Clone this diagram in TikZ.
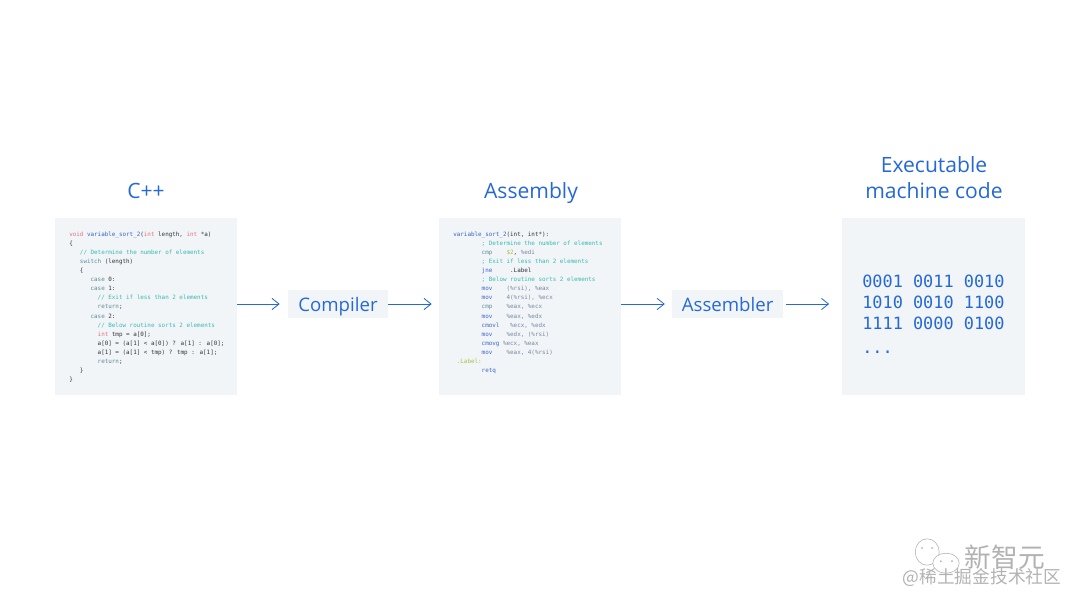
\documentclass[tikz,border=0pt]{standalone}
\usepackage{fontspec}
\setmainfont{Open Sans}
\newfontfamily\codefont{DejaVu Sans Mono}
\newfontfamily\cjkfont{Noto Sans CJK SC}
\definecolor{labelblue}{RGB}{38, 105, 214}
\definecolor{panelgrey}{RGB}{241, 245, 248}
\definecolor{codedark}{RGB}{50, 54, 60}
\definecolor{codeblue}{RGB}{60, 100, 200}
\definecolor{codered}{RGB}{236, 110, 125}
\definecolor{codeteal}{RGB}{60, 185, 175}
\definecolor{codeslate}{RGB}{95, 140, 150}
\definecolor{codereg}{RGB}{120, 135, 160}
\definecolor{codelime}{RGB}{175, 190, 70}
\definecolor{markgrey}{RGB}{178, 178, 178}
\newcommand{\kwred}[1]{\textcolor{codered}{#1}}
\newcommand{\kwblue}[1]{\textcolor{codeblue}{#1}}
\newcommand{\kwslate}[1]{\textcolor{codeslate}{#1}}
\newcommand{\cmt}[1]{\textcolor{codeteal}{#1}}
\newcommand{\reg}[1]{\textcolor{codereg}{#1}}
\usetikzlibrary{positioning, arrows.meta}

\begin{document}
\begin{tikzpicture}[
        panel/.style={fill=panelgrey, minimum width=4.55cm, minimum height=4.425cm, inner sep=0pt},
        toolbox/.style={fill=panelgrey, minimum height=0.7cm, inner sep=0pt, text height=11pt, text depth=1pt, text=labelblue, font=\fontsize{13.25}{17}\selectfont},
        title/.style={text=labelblue, align=center, font=\fontsize{15}{18.5}\selectfont},
        code/.style={anchor=north west, inner sep=0pt, align=left, text=codedark, font=\codefont\fontsize{4.2}{6.45}\selectfont},
        bincode/.style={anchor=north west, inner sep=0pt, align=left, text=labelblue, font=\codefont\fontsize{12}{15.15}\selectfont},
        arrow/.style={-{Straight Barb[length=5pt, width=8pt]}, semithick, color=labelblue},
        wmark/.style={inner sep=0pt, text=markgrey}
      ]
        \useasboundingbox (0, 0) rectangle (27, 15.15);

        \node[panel] (cpp) at (3.65, 7.49) {};
        \node[panel] (asm) at (13.25, 7.49) {};
        \node[panel, minimum width=4.575cm] (exe) at (23.34, 7.49) {};
        \node[toolbox, minimum width=2.5cm] (compiler) at (8.45, 7.55) {Compiler};
        \node[toolbox, minimum width=2.775cm] (assembler) at (18.19, 7.55) {Assembler};

        \node[title] (cpptitle) at (3.65, 10.375) {C++};
        \node[title] (asmtitle) at (13.275, 10.325) {Assembly};
        \node[title] (exetitle) at (23.35, 10.7) {Executable\\machine code};

        \node[code] (cppcode) at (1.725, 9.36) {%
          \kwred{void} \kwblue{variable\_sort\_2}(\kwred{int} length, \kwred{int} *a)\\
          \{\\
          ~~~\cmt{// Determine the number of elements}\\
          ~~~\kwslate{switch} (length)\\
          ~~~\{\\
          ~~~~~~\kwslate{case} 0:\\
          ~~~~~~\kwslate{case} 1:\\
          ~~~~~~~~\cmt{// Exit if less than 2 elements}\\
          ~~~~~~~~\kwslate{return};\\
          ~~~~~~\kwslate{case} 2:\\
          ~~~~~~~~\cmt{// Below routine sorts 2 elements}\\
          ~~~~~~~~\kwred{int} tmp = a[0];\\
          ~~~~~~~~a[0] = (a[1] < a[0]) ? a[1] : a[0];\\
          ~~~~~~~~a[1] = (a[1] < tmp) ? tmp : a[1];\\
          ~~~~~~~~\kwslate{return};\\
          ~~~\}\\
          \}};

        \node[code] (asmcode) at (11.325, 9.36) {%
          \kwblue{variable\_sort\_2}(int, int*):\\
          ~~~~~~~~\cmt{; Determine the number of elements}\\
          ~~~~~~~~\kwslate{cmp}~~~~\textcolor{codelime}{\$2}, \reg{\%edi}\\
          ~~~~~~~~\cmt{; Exit if less than 2 elements}\\
          ~~~~~~~~\kwblue{jne}~~~~~.Label\\
          ~~~~~~~~\cmt{; Below routine sorts 2 elements}\\
          ~~~~~~~~\kwblue{mov}~~~~\reg{(\%rsi), \%eax}\\
          ~~~~~~~~\kwblue{mov}~~~~\reg{4(\%rsi), \%ecx}\\
          ~~~~~~~~\kwslate{cmp}~~~~\reg{\%eax, \%ecx}\\
          ~~~~~~~~\kwblue{mov}~~~~\reg{\%eax, \%edx}\\
          ~~~~~~~~\kwblue{cmovl}~~~\reg{\%ecx, \%edx}\\
          ~~~~~~~~\kwblue{mov}~~~~\reg{\%edx, (\%rsi)}\\
          ~~~~~~~~\kwblue{cmovg} \reg{\%ecx, \%eax}\\
          ~~~~~~~~\kwblue{mov}~~~~\reg{\%eax, 4(\%rsi)}\\
          ~\textcolor{codelime}{.Label:}\\
          ~~~~~~~~\kwblue{retq}};

        \node[bincode] (execode) at (21.55, 8.29) {%
          0001 0011 0010\\
          1010 0010 1100\\
          1111 0000 0100\\[1.5pt]
          ...};

        \draw[arrow, shorten >=5.7pt] (cpp.east |- compiler.west) -- (compiler.west);
        \draw[arrow, shorten >=5pt] (compiler.east) -- (compiler.east -| asm.west);
        \draw[arrow, shorten >=5pt] (asm.east |- assembler.west) -- (assembler.west);
        \draw[arrow, shorten >=9pt] (assembler.east) ++(2pt, 0) -- (assembler.east -| exe.west);

        % watermark
        \draw[markgrey, fill=white] (23.18, 1.35) ellipse (0.3cm and 0.33cm);
        \draw[markgrey, fill=white] (23.65, 1.07) ellipse (0.33cm and 0.25cm);
        \fill[markgrey] (23.05, 1.45) circle (0.025cm) (23.3, 1.45) circle (0.025cm) (23.52, 1.12) circle (0.025cm) (23.8, 1.12) circle (0.025cm);
        \node[wmark, font=\cjkfont\fontsize{19}{20}\selectfont] (markname) at (25.125, 1.23) {新智元};
        \node[wmark, font=\cjkfont\fontsize{12.6}{14}\selectfont] (marksite) at (24.55, 0.7) {@稀土掘金技术社区};
      \end{tikzpicture}
\end{document}
